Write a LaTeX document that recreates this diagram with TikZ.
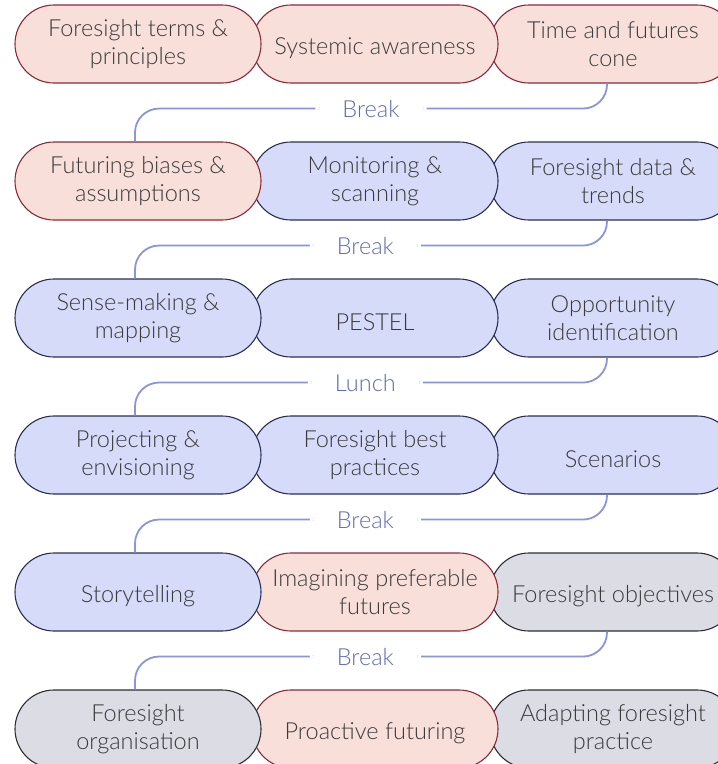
\documentclass[tikz,border=0pt]{standalone}
\usepackage{fontspec}
\setmainfont{Lato Light}
\usetikzlibrary{shapes.misc}

\definecolor{pinkfill}{HTML}{F9DFDA}
\definecolor{pinkline}{HTML}{8A2A3C}
\definecolor{bluefill}{HTML}{D5DBF9}
\definecolor{blueline}{HTML}{2A2F55}
\definecolor{greyfill}{HTML}{DCDCE4}
\definecolor{greyline}{HTML}{2E2E33}
\definecolor{linkblue}{HTML}{8C94DC}
\definecolor{labelblue}{HTML}{5F6AB4}
\definecolor{txtgrey}{HTML}{3A3A3A}

\begin{document}
\begin{tikzpicture}[x=1pt, y=-1pt,
    topic/.style={rounded rectangle, rounded rectangle arc length=180,
        line width=1.1pt, minimum width=246pt, minimum height=78pt,
        inner sep=0pt, align=center, text=txtgrey,
        font=\fontsize{23.5}{28}\selectfont,
        execute at begin node={\rule{0pt}{26pt}}},
    topicpink/.style={topic, fill=pinkfill, draw=pinkline},
    topicblue/.style={topic, fill=bluefill, draw=blueline},
    topicgrey/.style={topic, fill=greyfill, draw=greyline},
    link/.style={draw=linkblue, line width=1.8pt, rounded corners=24pt},
    breaklabel/.style={fill=white, text=labelblue, inner xsep=27pt,
        font=\fontsize{23.5}{28}\selectfont}
]
    \useasboundingbox (0,0) rectangle (718,764);

    % Row 1 (drawn right to left so the left pill sits on top)
    \node[topicpink] (r1c3) at (613, 44) {Time and futures\\cone};
    \node[topicpink] (r1c2) at (375, 44) {Systemic awareness};
    \node[topicpink] (r1c1) at (138, 44) {Foresight terms \&\\principles};

    % Row 2
    \node[topicblue] (r2c3) at (613, 181) {Foresight data \&\\trends};
    \node[topicblue] (r2c2) at (375, 181) {Monitoring \&\\scanning};
    \node[topicpink] (r2c1) at (138, 181) {Futuring biases \&\\assumptions};

    % Row 3
    \node[topicblue] (r3c3) at (613, 318) {Opportunity\\identification};
    \node[topicblue] (r3c2) at (375, 318) {PESTEL};
    \node[topicblue] (r3c1) at (138, 318) {Sense-making \&\\mapping};

    % Row 4
    \node[topicblue] (r4c3) at (613, 455) {Scenarios};
    \node[topicblue] (r4c2) at (375, 455) {Foresight best\\practices};
    \node[topicblue] (r4c1) at (138, 455) {Projecting \&\\envisioning};

    % Row 5
    \node[topicgrey] (r5c3) at (613, 592) {Foresight objectives};
    \node[topicpink] (r5c2) at (375, 592) {Imagining preferable\\futures};
    \node[topicblue] (r5c1) at (138, 592) {Storytelling};

    % Row 6
    \node[topicgrey] (r6c3) at (613, 729) {Adapting foresight\\practice};
    \node[topicpink] (r6c2) at (375, 729) {Proactive futuring};
    \node[topicgrey] (r6c1) at (138, 729) {Foresight\\organisation};

    % Pauses between the rows
    \foreach \r/\n/\lbl/\p in {1/2/Break/0.75, 2/3/Break/0.756, 3/4/Lunch/0.756,
                               4/5/Break/0.756, 5/6/Break/0.756} {
        \coordinate (a) at ([xshift=-6pt]r\r c3.south);
        \coordinate (b) at ([xshift=-3pt]r\n c1.north);
        \draw[link] (a) |- node[breaklabel, pos=\p] {\lbl}
            ([yshift=-25pt]a -| b) -- (b);
    }
\end{tikzpicture}
\end{document}
